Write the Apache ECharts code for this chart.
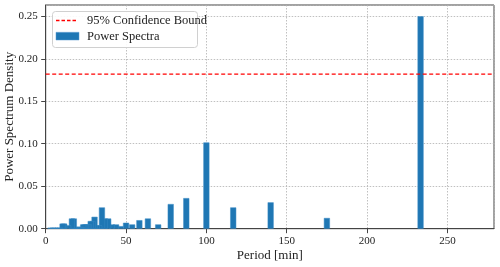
<!DOCTYPE html>
<html><head><meta charset="utf-8">
<script src="https://cdn.jsdelivr.net/npm/echarts@6/dist/echarts.min.js"></script>
<style>html,body{margin:0;padding:0;background:#fff}#c{width:500px;height:267px}</style>
</head><body><div id="c"></div>
<script>
// Periods [min] (bar centres) and power spectral densities
var periods = [233.3,175.0,140.0,116.7,100.0,87.5,77.8,70.0,63.6,58.3,53.8,50.0,46.7,43.8,41.2,38.9,36.8,35.0,33.3,31.8,30.4,29.2,28.0,26.9,25.9,25.0,24.1,23.3,22.6,21.9,21.2,20.6,20.0,18.9,18.4,17.5,16.3,14.0,11.5,10.5,9.0,7.5,6.0,4.5,3.0];
var psd     = [0.250,0.0126,0.031,0.025,0.1015,0.036,0.029,0.005,0.012,0.010,0.005,0.007,0.003,0.005,0.005,0.012,0.012,0.025,0.004,0.004,0.014,0.009,0.009,0.005,0.005,0.005,0.005,0.005,0.002,0.002,0.002,0.002,0.002,0.002,0.002,0.012,0.012,0.004,0.006,0.006,0.0012,0.0012,0.0012,0.0012,0.0012];
var confidenceBound = 0.182;
var xTicks = [0,50,100,150,200,250];
var yTicks = [0.00,0.05,0.10,0.15,0.20,0.25];
var seriesNames = ['95% Confidence Bound','Power Spectra'];

var barData = periods.map(function(p,i){return [p, psd[i]];});
var font = 'Liberation Serif';
var chart = echarts.init(document.getElementById('c'), null, {renderer:'canvas'});
chart.setOption({
  animation:false,
  textStyle:{fontFamily:font},
  grid:{left:45.7,right:6,top:5,bottom:38.3,show:true,borderColor:'#444',borderWidth:1,backgroundColor:'transparent',
        containLabel:false,outerBoundsMode:'none'},
  legend:{show:false},
  graphic:[
    {type:'rect',left:52,top:11,z:100,shape:{width:145,height:36,r:3},
     style:{fill:'rgba(255,255,255,0.9)',stroke:'#d0d0d0',lineWidth:1}},
    {type:'line',z:101,shape:{x1:56,y1:20.5,x2:78,y2:20.5},
     style:{stroke:'#ff0000',lineWidth:1.3,lineDash:[3.5,2]}},
    {type:'text',z:101,left:87,top:14.5,
     style:{text:seriesNames[0],font:'12.5px "'+font+'"',fill:'#222'}},
    {type:'rect',z:101,shape:{x:56,y:32.3,width:23,height:7.7},
     style:{fill:'#1f77b4',stroke:'#5b9bd0',lineWidth:0.5}},
    {type:'text',z:101,left:87,top:30.5,
     style:{text:seriesNames[1],font:'12.5px "'+font+'"',fill:'#222'}}
  ],
  xAxis:{
    type:'value',min:0,max:279,interval:50,
    name:'Period [min]',nameLocation:'middle',nameGap:27,nameMoveOverlap:false,
    nameTextStyle:{fontFamily:font,fontSize:13,color:'#222',verticalAlign:'middle'},
    axisLine:{show:true,lineStyle:{color:'#444',width:1}},
    axisTick:{show:true,length:4.5,lineStyle:{color:'#444'}},
    axisLabel:{fontFamily:font,fontSize:11,color:'#222',margin:7,showMaxLabel:false,
      formatter:function(v){return xTicks.indexOf(v)>=0?String(v):'';}},
    splitLine:{show:true,lineStyle:{color:'#b0b0b0',type:[1.5,1.5],width:0.8}}
  },
  yAxis:{
    type:'value',min:0,max:0.2633,interval:0.05,
    name:'Power Spectrum Density',nameLocation:'middle',nameGap:30,nameMoveOverlap:false,
    nameTextStyle:{fontFamily:font,fontSize:13,color:'#222'},
    axisLine:{show:true,lineStyle:{color:'#444',width:1}},
    axisTick:{show:true,length:4.5,lineStyle:{color:'#444'}},
    axisLabel:{fontFamily:font,fontSize:11,color:'#222',margin:8,showMaxLabel:false,
      formatter:function(v){for(var i=0;i<yTicks.length;i++){if(Math.abs(yTicks[i]-v)<1e-9)return yTicks[i].toFixed(2);}return '';}},
    splitLine:{show:true,lineStyle:{color:'#b0b0b0',type:[1.5,1.5],width:0.8}}
  },
  series:[
    {name:seriesNames[0],type:'line',data:[[0,confidenceBound],[279,confidenceBound]],symbol:'none',
     lineStyle:{color:'#ff0000',type:[4,2.5],width:1.2},itemStyle:{color:'#ff0000'},z:5},
    {name:seriesNames[1],type:'bar',data:barData,barWidth:6,
     itemStyle:{color:'#1f77b4',borderColor:'#3b8ac4',borderWidth:0.5},z:3}
  ]
});
</script></body></html>
